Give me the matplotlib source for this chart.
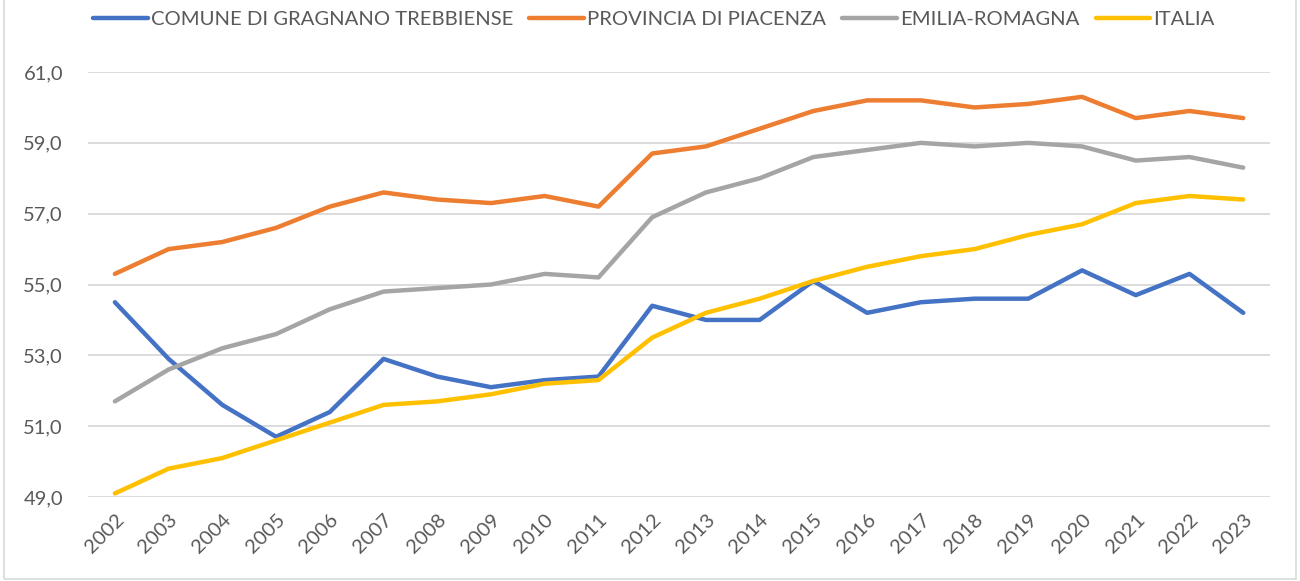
import matplotlib.pyplot as plt
from matplotlib.patches import Rectangle
from matplotlib.ticker import FuncFormatter

years = [str(y) for y in range(2002, 2024)]

comune = [54.5, 52.9, 51.6, 50.7, 51.4, 52.9, 52.4, 52.1, 52.3, 52.4, 54.4,
          54.0, 54.0, 55.1, 54.2, 54.5, 54.6, 54.6, 55.4, 54.7, 55.3, 54.2]
provincia = [55.3, 56.0, 56.2, 56.6, 57.2, 57.6, 57.4, 57.3, 57.5, 57.2, 58.7,
             58.9, 59.4, 59.9, 60.2, 60.2, 60.0, 60.1, 60.3, 59.7, 59.9, 59.7]
emilia = [51.7, 52.6, 53.2, 53.6, 54.3, 54.8, 54.9, 55.0, 55.3, 55.2, 56.9,
          57.6, 58.0, 58.6, 58.8, 59.0, 58.9, 59.0, 58.9, 58.5, 58.6, 58.3]
italia = [49.1, 49.8, 50.1, 50.6, 51.1, 51.6, 51.7, 51.9, 52.2, 52.3, 53.5,
          54.2, 54.6, 55.1, 55.5, 55.8, 56.0, 56.4, 56.7, 57.3, 57.5, 57.4]

series = [
    ("COMUNE DI GRAGNANO TREBBIENSE", comune, "#4472C4"),
    ("PROVINCIA DI PIACENZA", provincia, "#ED7D31"),
    ("EMILIA-ROMAGNA", emilia, "#A5A5A5"),
    ("ITALIA", italia, "#FFC000"),
]

plt.rcParams['font.family'] = ['Lato', 'DejaVu Sans']

fig = plt.figure(figsize=(13, 5.81), dpi=100)
ax = fig.add_axes([0.0677, 0.1446, 0.9093, 0.7314])

x = range(len(years))
for name, vals, col in series:
    ax.plot(x, vals, color=col, lw=3.2, label=name, solid_capstyle='round',
            solid_joinstyle='round')

ax.set_xlim(-0.5, len(years) - 0.5)
ax.set_ylim(49, 61)
ax.set_yticks([49, 51, 53, 55, 57, 59, 61])
ax.yaxis.set_major_formatter(FuncFormatter(lambda v, p: f"{v:.1f}".replace(".", ",")))
ax.set_xticks(list(x))
ax.set_xticklabels(years, rotation=45, ha='right', rotation_mode='anchor')

ax.grid(axis='y', color='#D9D9D9', lw=1.3)
ax.set_axisbelow(True)
for s in ax.spines.values():
    s.set_visible(False)
ax.tick_params(axis='both', length=0, colors='#595959', labelsize=14.5)
ax.tick_params(axis='y', pad=18)
ax.tick_params(axis='x', pad=10)

fig.legend(loc='center', bbox_to_anchor=(0.503, 0.966), ncol=4, frameon=False,
           fontsize=14.6, handlelength=2.7, handletextpad=0.15, columnspacing=0.8,
           labelcolor='#595959')

fig.patches.append(Rectangle((0.003, 0.003), 0.994, 1.2, transform=fig.transFigure,
                             fill=False, edgecolor='#D9D9D9', lw=1.2))

fig.savefig("out.png", dpi=100)
